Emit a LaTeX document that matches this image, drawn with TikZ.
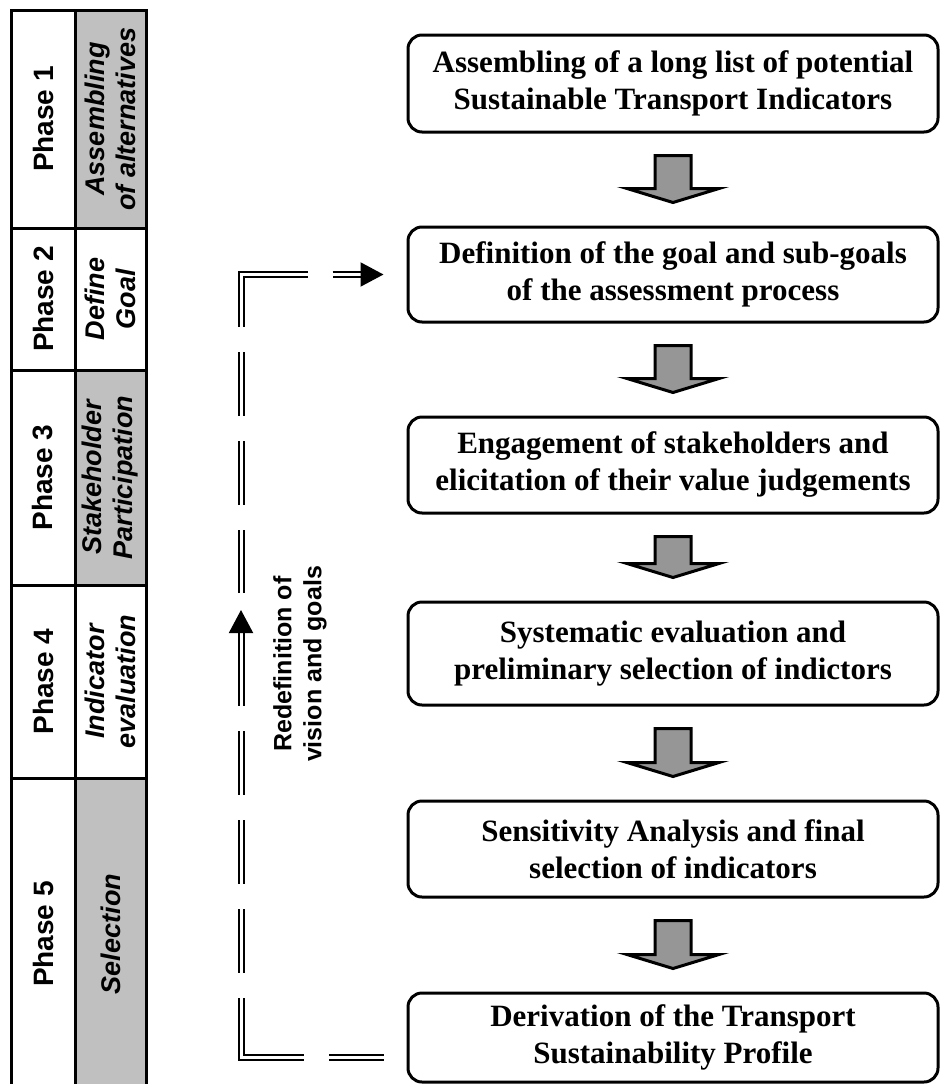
\documentclass[tikz,border=0pt]{standalone}
\usepackage{fontspec}
\setmainfont{Liberation Serif}
\setsansfont{Liberation Sans}
\usetikzlibrary{arrows.meta,calc}
\definecolor{cellgray}{RGB}{192,192,192}
\definecolor{arrowgray}{RGB}{150,150,150}
\newcommand{\flowarrow}[2]{%
	\draw[blockarrow] let \p1 = (#1.south), \p2 = (#2.north) in
	(\x1-18pt,\y1-22pt) -- (\x1+18pt,\y1-22pt) -- (\x1+18pt,\y2+37pt) -- (\x1+46pt,\y2+37pt)
	-- (\x1,\y2+23pt) -- (\x1-46pt,\y2+37pt) -- (\x1-18pt,\y2+37pt) -- cycle;}

\begin{document}
\begin{tikzpicture}[x=1pt, y=-1pt,
		box/.style = {draw, line width=3pt, rounded corners=14pt, align=center, minimum width=530pt, inner sep=0pt, font=\fontsize{31}{37}\selectfont\bfseries},
		phasecell/.style = {draw, line width=3pt, rotate=90, minimum height=64pt, inner sep=0pt, font=\sffamily\bfseries\fontsize{28}{31}\selectfont},
		desccell/.style = {phasecell, minimum height=71pt, align=center, font=\sffamily\bfseries\itshape\fontsize{27}{31}\selectfont},
		blockarrow/.style = {draw, line width=3pt, fill=arrowgray, line join=miter},
		feedback/.style = {draw, double, line width=2pt, double distance=3pt}]
		\useasboundingbox (0,0) rectangle (952,1084);

		\node[phasecell, minimum width=218pt] (ph1) at (43,119) {Phase 1};
		\node[desccell, minimum width=218pt, fill=cellgray] (ds1) at (110.5,119) {Assembling\\of alternatives};
		\node[phasecell, minimum width=142pt] (ph2) at (43,299) {Phase 2};
		\node[desccell, minimum width=142pt] (ds2) at (110.5,299) {Define\\Goal};
		\node[phasecell, minimum width=215pt] (ph3) at (43,477.5) {Phase 3};
		\node[desccell, minimum width=215pt, fill=cellgray] (ds3) at (110.5,477.5) {Stakeholder\\Participation};
		\node[phasecell, minimum width=193pt] (ph4) at (43,681.5) {Phase 4};
		\node[desccell, minimum width=193pt] (ds4) at (110.5,681.5) {Indicator\\evaluation};
		\node[phasecell, minimum width=312pt] (ph5) at (43,934) {Phase 5};
		\node[desccell, minimum width=312pt, fill=cellgray] (ds5) at (110.5,934) {Selection};

		\node[box, minimum height=97pt] (b1) at (673,83.5) {Assembling of a long list of potential\\Sustainable Transport Indicators};
		\node[box, minimum height=95pt] (b2) at (673,274.5) {Definition of the goal and sub-goals\\of the assessment process};
		\node[box, minimum height=96pt] (b3) at (673,465) {Engagement of stakeholders and\\elicitation of their value judgements};
		\node[box, minimum height=103pt] (b4) at (673,653.5) {Systematic evaluation and\\preliminary selection of indictors};
		\node[box, minimum height=96pt] (b5) at (673,849) {Sensitivity Analysis and final\\selection of indicators};
		\node[box, minimum height=89pt] (b6) at (673,1037.5) {Derivation of the Transport\\Sustainability Profile};

		\flowarrow{b1}{b2}
		\flowarrow{b2}{b3}
		\flowarrow{b3}{b4}
		\flowarrow{b4}{b5}
		\flowarrow{b5}{b6}

		\coordinate (fbstart) at ($(b6.west)+(-23,19.5)$);
		\coordinate (fbbot) at (241,1057);
		\coordinate (fbup) at (241,610);
		\coordinate (fbrise) at (241,593);
		\coordinate (fbtop) at (fbbot |- b2.west);
		\coordinate (fbend) at ($(b2.west)+(-23,0)$);
		\draw[feedback, dash pattern=on 55pt off 25pt on 122pt off 25pt on 64pt off 25pt on 64pt off 25pt on 64pt off 25pt on 120pt off 25pt, -{Triangle[length=23pt,width=24pt]}] (fbstart) -- (fbbot) -- (fbup);
		\draw[feedback, dash pattern=on 63pt off 25pt on 64pt off 25pt on 64pt off 25pt on 119pt off 25pt on 100pt off 25pt, -{Triangle[length=23pt,width=24pt]}] (fbrise) -- (fbtop) -- (fbend);

		\node[rotate=90, align=center, font=\sffamily\bfseries\fontsize{25}{30}\selectfont] (redef) at (300,664) {Redefinition of\\vision and goals};
	\end{tikzpicture}
\end{document}
